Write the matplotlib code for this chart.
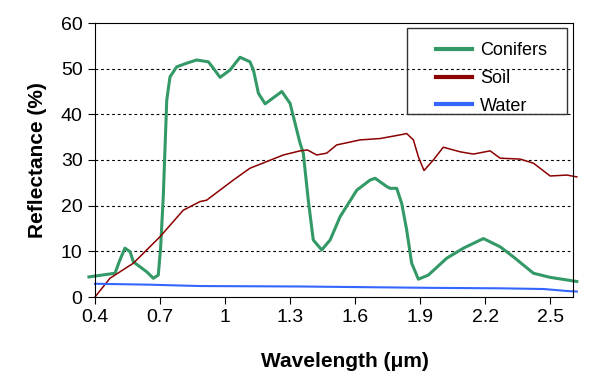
import matplotlib.pyplot as plt
from matplotlib.patches import Rectangle

plt.rcParams['font.family'] = ['Liberation Sans', 'DejaVu Sans']

# reflectance spectra
wl_con = [0.372, 0.492, 0.515, 0.538, 0.562, 0.577, 0.639, 0.669, 0.692, 0.703,
          0.715, 0.731, 0.746, 0.777, 0.823, 0.869, 0.923, 0.946, 0.977, 1.023,
          1.069, 1.115, 1.131, 1.154, 1.185, 1.262, 1.300, 1.346, 1.361, 1.384,
          1.407, 1.446, 1.485, 1.531, 1.608, 1.669, 1.692, 1.746, 1.761, 1.792,
          1.815, 1.838, 1.861, 1.892, 1.938, 2.023, 2.100, 2.192, 2.269, 2.330,
          2.423, 2.500, 2.623]
r_con = [4.4, 5.2, 8.1, 10.7, 9.9, 7.7, 5.5, 4.1, 4.8, 11.0,
         22.0, 43.1, 48.2, 50.4, 51.2, 51.9, 51.5, 50.1, 48.1, 49.7,
         52.5, 51.5, 49.7, 44.6, 42.3, 45.0, 42.4, 33.7, 31.5, 21.2,
         12.5, 10.3, 12.5, 17.6, 23.4, 25.6, 26.0, 24.2, 23.8, 23.8,
         20.5, 14.7, 7.4, 3.9, 4.8, 8.5, 10.7, 12.8, 11.0, 8.8,
         5.2, 4.3, 3.4]

wl_soil = [0.4, 0.469, 0.577, 0.7, 0.807, 0.885, 0.915, 1.038, 1.115, 1.269,
           1.346, 1.380, 1.423, 1.469, 1.515, 1.623, 1.715, 1.808, 1.838, 1.869,
           1.892, 1.918, 1.961, 2.007, 2.084, 2.146, 2.223, 2.269, 2.361, 2.423,
           2.5, 2.577, 2.623]
r_soil = [0, 4.1, 7.4, 13.2, 19.0, 20.9, 21.2, 25.6, 28.2, 31.1,
          32.0, 32.2, 31.1, 31.5, 33.3, 34.4, 34.7, 35.5, 35.8, 34.4,
          30.7, 27.7, 30.0, 32.8, 31.8, 31.3, 32.0, 30.4, 30.2, 29.3,
          26.5, 26.7, 26.3]

wl_water = [0.4, 0.65, 0.885, 1.346, 1.96, 2.27, 2.47, 2.58, 2.623]
r_water = [2.9, 2.7, 2.4, 2.3, 2.0, 1.9, 1.75, 1.3, 1.2]

x_ticks = [0.4, 0.7, 1.0, 1.3, 1.6, 1.9, 2.2, 2.5]
x_labels = ['0.4', '0.7', '1', '1.3', '1.6', '1.9', '2.2', '2.5']
y_ticks = [0, 10, 20, 30, 40, 50, 60]

fig = plt.figure(figsize=(5.98, 3.89), dpi=100)
ax = fig.add_axes([95 / 598, 1 - 297 / 389, 477.7 / 598, 274 / 389])

for y in y_ticks[1:-1]:
    ax.axhline(y, color='black', lw=0.8, ls=(0, (2.5, 2.5)), zorder=0)

ax.plot(wl_con, r_con, color='#339966', lw=2.2, label='Conifers', clip_on=False)
ax.plot(wl_soil, r_soil, color='#8B0000', lw=1.1, label='Soil', clip_on=False)
ax.plot(wl_water, r_water, color='#3366FF', lw=1.5, label='Water', clip_on=False)

ax.set_xlim(0.4, 2.604)
ax.set_ylim(0, 60)
ax.set_xticks(x_ticks)
ax.set_xticklabels(x_labels)
ax.set_yticks(y_ticks)
ax.tick_params(direction='out', length=5, width=0.8, labelsize=14, pad=4)
for s in ax.spines.values():
    s.set_linewidth(0.8)

ax.set_xlabel('Wavelength (\u03bcm)', fontsize=15, fontweight='bold', labelpad=10)
ax.set_ylabel('Reflectance (%)', fontsize=15, fontweight='bold', labelpad=10)
ax.xaxis.set_label_coords(0.523, -0.2)

# legend box drawn as a plain frame, entries without frame
fig.patches.append(Rectangle((406.7 / 598, 1 - 114.3 / 389), 160 / 598, 86 / 389,
                             transform=fig.transFigure, fill=False,
                             edgecolor='#333333', lw=1.0))
leg = ax.legend(loc='upper left', bbox_to_anchor=(426.7 / 598, 1 - 33 / 389),
                bbox_transform=fig.transFigure, frameon=False, fontsize=13,
                handlelength=2.0, handletextpad=0.45, labelspacing=0.6, borderpad=0)
for h in leg.get_lines():
    h.set_linewidth(3.0)

plt.savefig('out.png', dpi=100)
